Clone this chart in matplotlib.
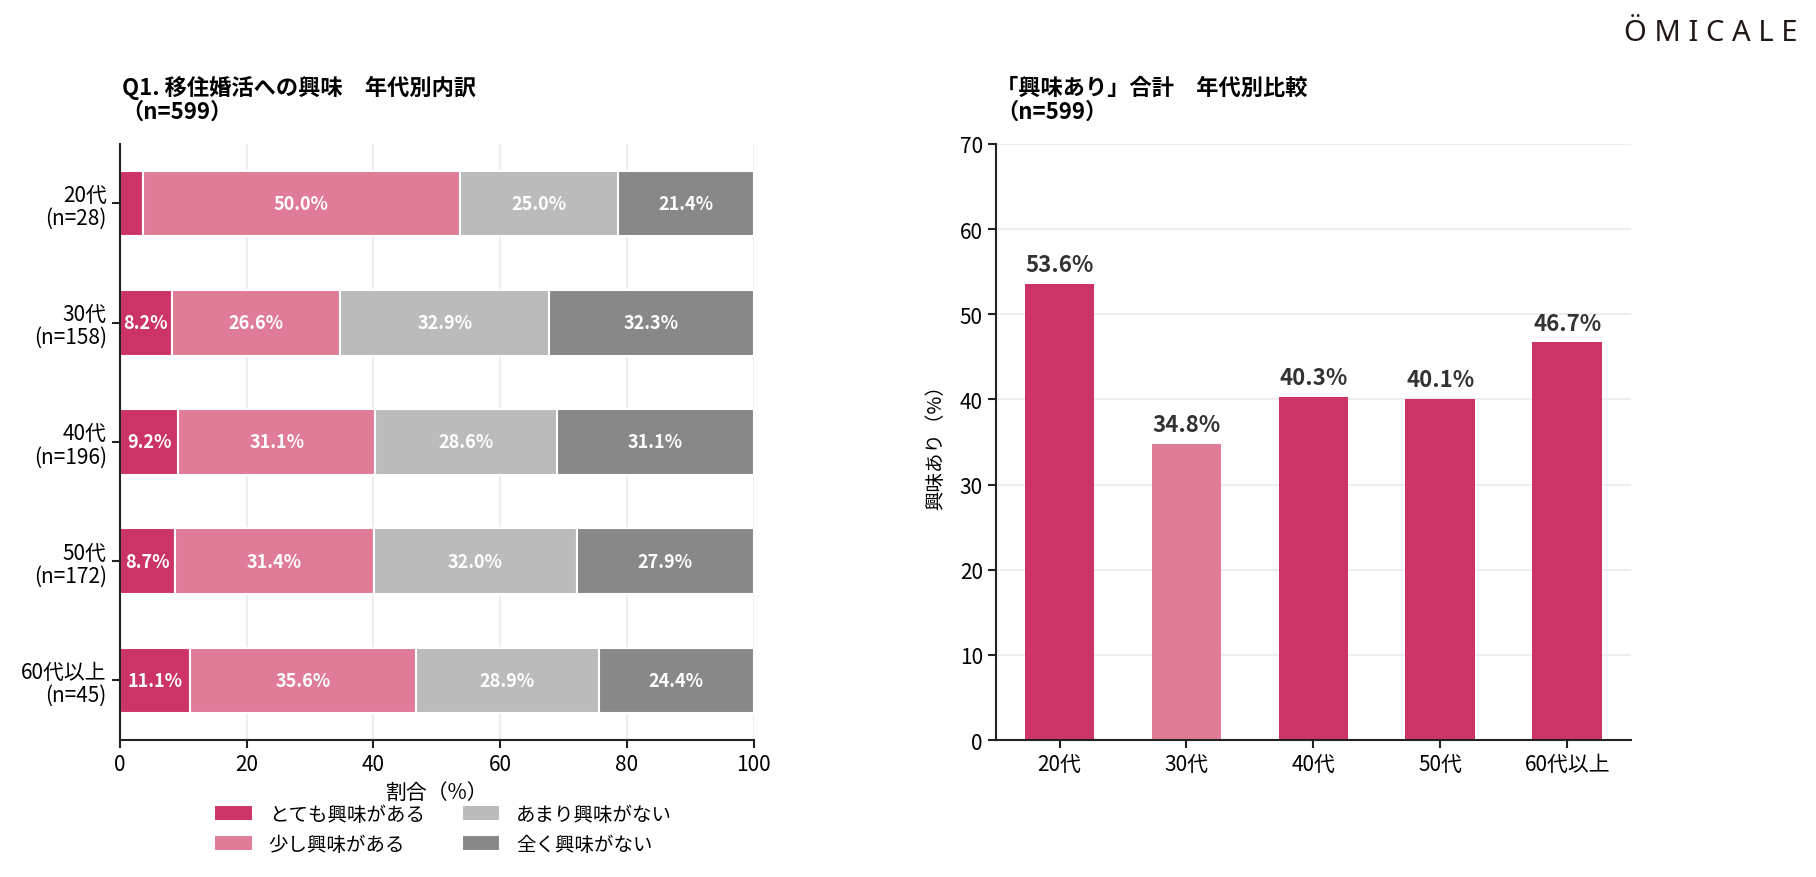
import matplotlib
matplotlib.use("Agg")
import matplotlib.pyplot as plt
import numpy as np

plt.rcParams['font.family'] = ['Noto Sans CJK JP', 'DejaVu Sans']

# data
ages = ["20代", "30代", "40代", "50代", "60代以上"]
age_n = [28, 158, 196, 172, 45]
categories = ["とても興味がある", "少し興味がある", "あまり興味がない", "全く興味がない"]
very = [3.6, 8.2, 9.2, 8.7, 11.1]
some = [50.0, 26.6, 31.1, 31.4, 35.6]
little = [25.0, 32.9, 28.6, 32.0, 28.9]
none_ = [21.4, 32.3, 31.1, 27.9, 24.4]
interest_total = [53.6, 34.8, 40.3, 40.1, 46.7]

colors = ["#CC3366", "#E07B98", "#BBBBBB", "#888888"]
dark = "#222222"

fig = plt.figure(figsize=(18.16, 8.78), dpi=100)

# ---- left: stacked horizontal bars ----
ax1 = fig.add_axes([0.066, 0.156, 0.349, 0.679])
y = np.arange(len(ages))
left = np.zeros(len(ages))
for vals, col, name in zip([very, some, little, none_], colors, categories):
    vals = np.array(vals)
    ax1.barh(y, vals, left=left, height=0.55, color=col, edgecolor="white",
             linewidth=1.5, label=name, zorder=2)
    # small segments stay unlabelled
    for yi, l, v in zip(y, left, vals):
        if v >= 5:
            ax1.text(l + v / 2, yi, f"{v:.1f}%", ha="center", va="center",
                     color="white", fontsize=13, fontweight="bold", zorder=3)
    left += vals

ax1.set_xlim(0, 100)
ax1.set_ylim(len(ages) - 0.5, -0.5)
ax1.set_yticks(y)
ax1.set_yticklabels([f"{a}\n(n={n})" for a, n in zip(ages, age_n)], fontsize=15, linespacing=1.05)
ax1.set_xticks([0, 20, 40, 60, 80, 100])
ax1.tick_params(axis="x", labelsize=15, length=6, width=1.5, color=dark)
ax1.tick_params(axis="y", length=6, width=1.5, color=dark)
ax1.set_xlabel("割合（%）", fontsize=15, labelpad=4)
ax1.grid(axis="x", color="#EEEEEE", linewidth=1.5, zorder=0)
ax1.set_axisbelow(True)
for s in ["top", "right"]:
    ax1.spines[s].set_visible(False)
for s in ["left", "bottom"]:
    ax1.spines[s].set_linewidth(1.5)
    ax1.spines[s].set_color(dark)

ax1.legend(loc="upper center", bbox_to_anchor=(0.51, -0.078), ncol=2, frameon=False,
           fontsize=14, handlelength=2.0, handleheight=0.9, columnspacing=1.9,
           labelspacing=0.45, handletextpad=0.8)

fig.text(0.067, 0.859, "Q1. 移住婚活への興味　年代別内訳\n（n=599）", fontsize=16,
         fontweight="bold", ha="left", va="bottom", linespacing=1.05)

# ---- right: total interest bars ----
ax2 = fig.add_axes([0.5485, 0.156, 0.3495, 0.679])
x = np.arange(len(ages))
bar_cols = [colors[1] if v == min(interest_total) else colors[0] for v in interest_total]
ax2.bar(x, interest_total, width=0.55, color=bar_cols, zorder=2)
for xi, v in zip(x, interest_total):
    ax2.text(xi, v + 0.9, f"{v:.1f}%", ha="center", va="bottom", fontsize=16,
             fontweight="bold", color="#333333")
ax2.set_ylim(0, 70)
ax2.set_xlim(-0.5, len(ages) - 0.5)
ax2.set_yticks(range(0, 71, 10))
ax2.set_xticks(x)
ax2.set_xticklabels(ages)
ax2.tick_params(labelsize=15, length=6, width=1.5, color=dark)
ax2.set_ylabel("興味あり（%）", fontsize=14, labelpad=10)
ax2.grid(axis="y", color="#EEEEEE", linewidth=1.5, zorder=0)
ax2.set_axisbelow(True)
for s in ["top", "right"]:
    ax2.spines[s].set_visible(False)
for s in ["left", "bottom"]:
    ax2.spines[s].set_linewidth(1.5)
    ax2.spines[s].set_color(dark)

fig.text(0.5485, 0.859, "「興味あり」合計　年代別比較\n（n=599）", fontsize=16,
         fontweight="bold", ha="left", va="bottom", linespacing=1.05)

# logo
fig.text(0.99, 0.962, "Ö M I C A L E", fontsize=21, family="Noto Sans",
         fontweight="semibold", color="#231815", ha="right", va="center")

fig.savefig("out.png", dpi=100)
